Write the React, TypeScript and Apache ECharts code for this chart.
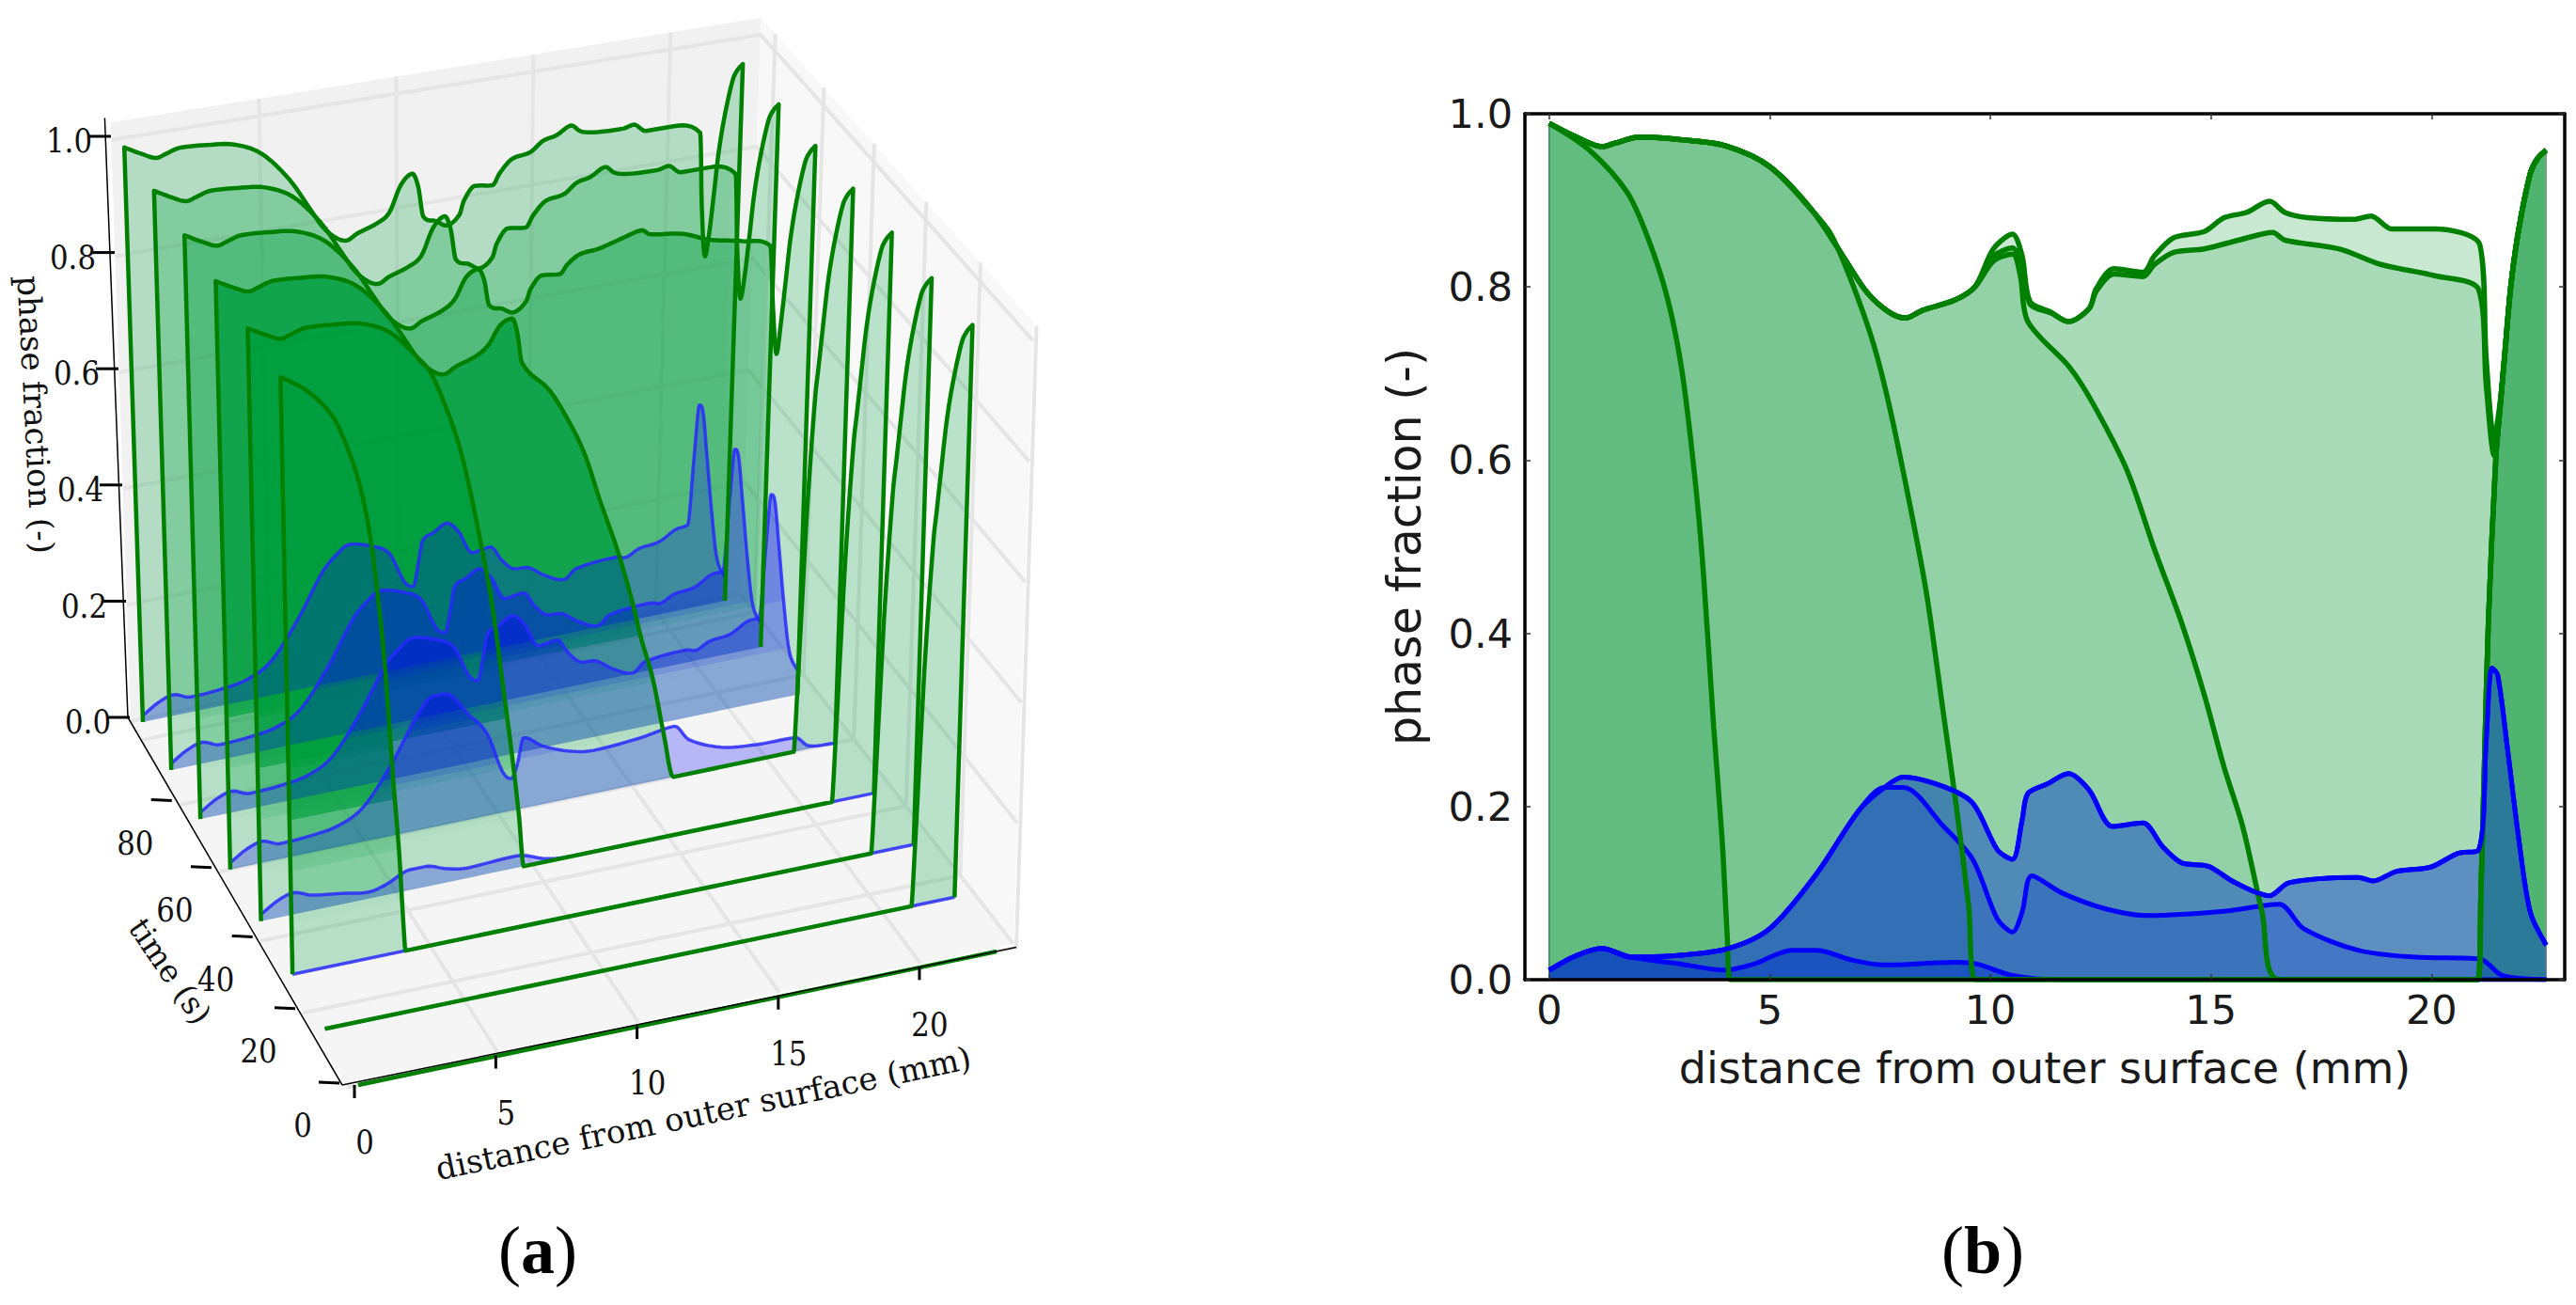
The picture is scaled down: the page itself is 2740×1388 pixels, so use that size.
import React, { useEffect, useRef } from "react";
import * as echarts from "echarts";

type Pt = [number, number];

const X_TICKS = [0, 5, 10, 15, 20];
const TIME_TICKS = [0, 20, 40, 60, 80];
const PHASE_TICKS = [0, 0.2, 0.4, 0.6, 0.8, 1];
const SLICE_TIMES = [105, 90, 75, 60, 45, 30, 15, 0];

const SHARED_A: Pt[] = [[0, 0.989], [0.62, 0.973], [1.2, 0.962], [1.48, 0.966], [2.05, 0.973], [3, 0.97], [4, 0.963], [5, 0.939], [6, 0.886]];
const SHARED_B: Pt[] = [[6.74, 0.829], [7.2, 0.794], [7.7, 0.771], [8.08, 0.764], [8.46, 0.773], [9.2, 0.785], [9.65, 0.8]];
const RISE: Pt[] = [[21.05, 0], [21.12, 0.1], [21.2, 0.25], [21.29, 0.414], [21.46, 0.604], [21.55, 0.657], [21.64, 0.71], [21.8, 0.802], [21.98, 0.867], [22.24, 0.931], [22.4, 0.948], [22.6, 0.958]];
const C1_TAIL: Pt[] = [[10.07, 0.844], [10.5, 0.861], [10.72, 0.836], [10.9, 0.783], [11.37, 0.771], [11.77, 0.76], [12.24, 0.775], [12.4, 0.798], [12.8, 0.821], [13.46, 0.817], [13.72, 0.836], [14.16, 0.857], [14.85, 0.864], [15.3, 0.88], [15.8, 0.886], [16.33, 0.899], [16.68, 0.886], [17.2, 0.88], [18.24, 0.878], [18.63, 0.882], [19.1, 0.867], [20.07, 0.867], [21.1, 0.848], [21.24, 0.718], [21.42, 0.625], [21.55, 0.665], [21.68, 0.733], [21.8, 0.802], [21.98, 0.867], [22.24, 0.931], [22.4, 0.948], [22.6, 0.958]];
const C2_TAIL: Pt[] = [[10.07, 0.835], [10.5, 0.845], [10.72, 0.825], [10.9, 0.78], [11.37, 0.77], [11.77, 0.76], [12.24, 0.775], [12.4, 0.795], [12.8, 0.815], [13.46, 0.812], [13.72, 0.826], [14.16, 0.84], [14.85, 0.844], [15.7, 0.855], [16.4, 0.863], [16.68, 0.854], [17.9, 0.844], [18.85, 0.826], [20.07, 0.813], [21.07, 0.797], [21.24, 0.687], [21.42, 0.605], [21.55, 0.66], [21.68, 0.733], [21.8, 0.802], [21.98, 0.867], [22.24, 0.931], [22.4, 0.948], [22.6, 0.958]];
const C3_TAIL: Pt[] = [[10.07, 0.83], [10.5, 0.838], [10.68, 0.813], [10.85, 0.76], [11.8, 0.707], [12.33, 0.665], [13.1, 0.588], [13.72, 0.497], [14.33, 0.413], [14.85, 0.329], [15.3, 0.245], [15.72, 0.177], [16.16, 0.078], [16.55, 0], ...RISE];
const C4_TAIL: Pt[] = [[6.36, 0.863], [6.74, 0.821], [7.31, 0.741], [7.7, 0.665], [8.17, 0.55], [8.56, 0.444], [8.94, 0.306], [9.23, 0.2], [9.51, 0.085], [9.68, 0], ...RISE];

const CURVE_1: Pt[] = [...SHARED_A, ...SHARED_B, ...C1_TAIL];
const CURVE_2: Pt[] = [...SHARED_A, ...SHARED_B, ...C2_TAIL];
const CURVE_3: Pt[] = [...SHARED_A, ...SHARED_B, ...C3_TAIL];
const CURVE_4: Pt[] = [...SHARED_A, ...C4_TAIL];
const CURVE_5: Pt[] = [[0, 0.989], [0.91, 0.958], [1.77, 0.909], [2.25, 0.855], [2.68, 0.787], [3.01, 0.703], [3.3, 0.581], [3.49, 0.474], [3.73, 0.291], [3.92, 0.162], [4.04, 0.047], [4.11, 0], ...RISE];
const CURVE_6: Pt[] = [[0, 0], ...RISE];
const CURVE_FLAT: Pt[] = [[0, 0], [22.6, 0]];

const BLUE_LEFT: Pt[] = [[0, 0.011], [0.62, 0.028], [1.2, 0.036], [1.86, 0.026], [2.92, 0.028], [4.06, 0.036], [5, 0.059], [6.07, 0.123], [7.03, 0.196], [7.6, 0.222]];
const BLUE_1: Pt[] = [...BLUE_LEFT, [8.03, 0.234], [8.94, 0.223], [9.6, 0.204], [10.16, 0.15], [10.5, 0.139], [10.72, 0.184], [10.85, 0.215], [11.29, 0.226], [11.77, 0.238], [12.24, 0.219], [12.77, 0.177], [13.46, 0.181], [13.9, 0.154], [14.33, 0.135], [14.94, 0.131], [15.55, 0.112], [16.33, 0.097], [16.77, 0.112], [18.33, 0.118], [18.68, 0.114], [19.2, 0.125], [19.98, 0.13], [20.6, 0.146], [21.07, 0.15], [21.24, 0.276], [21.37, 0.36], [21.5, 0.352], [21.72, 0.268], [21.98, 0.162], [22.24, 0.078], [22.6, 0.04]];
const BLUE_2: Pt[] = [...BLUE_LEFT, [8.03, 0.222], [8.94, 0.177], [9.6, 0.139], [10.16, 0.07], [10.5, 0.055], [10.72, 0.078], [10.94, 0.12], [11.63, 0.1], [12.6, 0.082], [13.55, 0.074], [15.3, 0.079], [16.55, 0.087], [17.1, 0.059], [18.33, 0.034], [19.63, 0.026], [21.1, 0.024], [21.6, 0.005], [22.6, 0]];
const BLUE_3: Pt[] = [[0, 0.011], [0.62, 0.028], [1.2, 0.036], [1.86, 0.026], [3, 0.018], [3.97, 0.011], [4.64, 0.018], [5.5, 0.034], [6.07, 0.034], [6.84, 0.023], [7.6, 0.017], [9.23, 0.02], [9.7, 0.018], [10.5, 0.005], [11.6, 0], [22.6, 0]];

const GREEN_CURVES = [CURVE_1, CURVE_2, CURVE_3, CURVE_4, CURVE_5, CURVE_6];
const GREEN_ALPHA = [0.216, 0.15, 0.135, 0.17, 0.19, 0.2];
const BLUE_CURVES = [BLUE_1, BLUE_2, BLUE_3];
const BLUE_ALPHA = [0.45, 0.25, 0.45];

const SLICE_GREEN = [CURVE_1, CURVE_1, CURVE_2, CURVE_3, CURVE_4, CURVE_5, CURVE_6, CURVE_FLAT];
const SLICE_BLUE = [BLUE_1, BLUE_1, BLUE_1, BLUE_2, BLUE_3, CURVE_FLAT, CURVE_FLAT];
// extra opacity of a slice above the floor line of each slice behind it
const OVERLAP_ALPHA = [0.25, 0.023, 0.123, 0.655, 0.55, 0];
const BLUE_OVERLAP_ALPHA = [0.25, 0.1, 0.1];
const OVERLAP_STEP = 0.085;

// ---- oblique 3-D projection for panel (a)
const XMAX = 22.6;
const TMAX = 105;
const XLO = -0.4, XHI = 23.3, TLO = 1, THI = 106, ZTOP = 1.03;
const [x0, y0, x1, y1, x2, y2, x3, y3] = [381, 1154, 1060, 1012, 771, 639, 152, 768];
const den = (x1 - x2) * (y3 - y2) - (x3 - x2) * (y1 - y2);
const sx = x0 - x1 + x2 - x3, sy = y0 - y1 + y2 - y3;
const hg = (sx * (y3 - y2) - (x3 - x2) * sy) / den;
const hh = ((x1 - x2) * sy - sx * (y1 - y2)) / den;
const ha = x1 - x0 + hg * x1, hb = x3 - x0 + hh * x3;
const hd = y1 - y0 + hg * y1, he = y3 - y0 + hh * y3;

function projectUnit(u: number, v: number, z: number): Pt {
  const w = hg * u + hh * v + 1;
  const bx = (ha * u + hb * v + x0) / w;
  const by = (hd * u + he * v + y0) / w;
  const vx = (1 - u) * ((1 - v) * -10 + v * -20) + u * 20;
  const vy = (1 - u) * ((1 - v) * -652 + v * -618) + u * ((1 - v) * -642 + v * -596);
  return [bx + z * vx, by + z * vy];
}
const project = (x: number, t: number, z: number) => projectUnit(x / XMAX, t / TMAX, z);

const HG = { left: 100, top: 20, width: 1000, height: 1000 };

function layer(z: number, build: (P: (x: number, t: number, v: number) => Pt) => any[]) {
  return {
    type: "custom",
    xAxisIndex: 2,
    yAxisIndex: 2,
    z,
    silent: true,
    clip: false,
    data: [[0, 0]],
    renderItem: (_p: any, api: any) => {
      const P = (x: number, t: number, v: number): Pt => {
        const c = api.coord([x, v]);
        return projectUnit((c[0] - HG.left) / HG.width, t / TMAX, (HG.top + HG.height - c[1]) / HG.height);
      };
      return { type: "group", children: build(P) };
    },
  };
}
const poly = (points: Pt[], fill: string) => ({ type: "polygon", shape: { points }, style: { fill }, silent: true });
const pline = (points: Pt[], stroke: string, lineWidth: number) => ({
  type: "polyline",
  shape: { points },
  style: { stroke, lineWidth, fill: "none", lineJoin: "round" },
  silent: true,
});

// smooth drawing of a polyline of read values (same idea as a smooth line series)
function drawCurve(curve: Pt[]): Pt[] {
  const n = curve.length;
  if (n < 3) return curve;
  const sec: number[] = [];
  for (let i = 0; i < n - 1; i++) sec.push((curve[i + 1][1] - curve[i][1]) / (curve[i + 1][0] - curve[i][0]));
  const m: number[] = curve.map((_, i) => {
    if (i === 0) return sec[0];
    if (i === n - 1) return sec[n - 2];
    if (sec[i - 1] * sec[i] <= 0) return 0;
    const c = (curve[i + 1][1] - curve[i - 1][1]) / (curve[i + 1][0] - curve[i - 1][0]);
    const lim = 3 * Math.min(Math.abs(sec[i - 1]), Math.abs(sec[i]));
    return Math.sign(c) * Math.min(Math.abs(c), lim);
  });
  const out: Pt[] = [];
  for (let i = 0; i < n - 1; i++) {
    const h = curve[i + 1][0] - curve[i][0];
    const steps = sec[i] === 0 ? 1 : 6;
    for (let s = 0; s < steps; s++) {
      const a = s / steps;
      const h00 = 2 * a * a * a - 3 * a * a + 1, h10 = a * a * a - 2 * a * a + a;
      const h01 = -2 * a * a * a + 3 * a * a, h11 = a * a * a - a * a;
      out.push([curve[i][0] + a * h, h00 * curve[i][1] + h10 * h * m[i] + h01 * curve[i + 1][1] + h11 * h * m[i + 1]]);
    }
  }
  out.push(curve[n - 1]);
  return out;
}

function segments(curve: Pt[]): Pt[][] {
  const out: Pt[][] = [];
  let cur: Pt[] = [];
  curve.forEach((p, i) => {
    cur.push(p);
    if (p[1] === 0 && i > 0) {
      if (cur.length > 1) out.push(cur);
      cur = [p];
    }
  });
  if (cur.length > 1) out.push(cur);
  return out;
}

const panes = layer(1, (P) => {
  const c: any[] = [
    poly([P(XLO, TLO, 0), P(XHI, TLO, 0), P(XHI, THI, 0), P(XLO, THI, 0)], "#f5f5f5"),
    poly([P(XLO, THI, 0), P(XHI, THI, 0), P(XHI, THI, ZTOP), P(XLO, THI, ZTOP)], "#f1f1f1"),
    poly([P(XHI, TLO, 0), P(XHI, THI, 0), P(XHI, THI, ZTOP), P(XHI, TLO, ZTOP)], "#f8f8f8"),
  ];
  const g = "#e5e5e5";
  X_TICKS.slice(1).forEach((x) => {
    c.push(pline([P(x, TLO, 0), P(x, THI, 0), P(x, THI, ZTOP)], g, 4));
  });
  [...TIME_TICKS.slice(1), 100, 0].forEach((t) => {
    c.push(pline([P(XLO, t, 0), P(XHI, t, 0), P(XHI, t, ZTOP)], g, 4));
  });
  PHASE_TICKS.forEach((z) => {
    c.push(pline([P(XLO, THI, z), P(XHI, THI, z), P(XHI, TLO, z)], g, 4));
  });
  return c;
});

const GREEN_3D = "0,158,62";
const greenFills = layer(2, (P) => {
  const c: any[] = [];
  SLICE_GREEN.forEach((curve, i) => {
    const t = SLICE_TIMES[i];
    segments(curve).forEach((rawSeg) => {
      const seg = drawCurve(rawSeg);
      const xa = seg[0][0], xb = seg[seg.length - 1][0];
      const top = seg.map((p) => P(p[0], t, p[1]));
      c.push(poly([...top, P(xb, t, 0), P(xa, t, 0)], `rgba(${GREEN_3D},${OVERLAP_ALPHA[0]})`));
      if (rawSeg[0][1] === 0) return;
      const body = seg.filter((p) => p[0] <= 21.05);
      const bodyEnd = body[body.length - 1][0];
      for (let j = 1; j <= i && j < OVERLAP_ALPHA.length; j++) {
        if (OVERLAP_ALPHA[j] === 0) continue;
        const a = j * OVERLAP_STEP;
        const band = body.map((p) => P(p[0], t, Math.max(p[1], a)));
        c.push(poly([...band, P(bodyEnd, t, a), P(xa, t, a)], `rgba(${GREEN_3D},${OVERLAP_ALPHA[j]})`));
      }
    });
  });
  return c;
});

const blues = layer(3, (P) => {
  const c: any[] = [];
  SLICE_BLUE.forEach((curve, i) => {
    const t = SLICE_TIMES[i];
    const line = drawCurve(curve);
    const xEnd = curve[curve.length - 1][0];
    const top = line.map((p) => P(p[0], t, p[1]));
    c.push(poly([...top, P(xEnd, t, 0), P(0, t, 0)], `rgba(0,0,255,${BLUE_OVERLAP_ALPHA[0]})`));
    for (let j = 1; j <= i && j < BLUE_OVERLAP_ALPHA.length; j++) {
      const a = j * OVERLAP_STEP;
      const band = line.map((p) => P(p[0], t, Math.max(p[1], a)));
      c.push(poly([...band, P(xEnd, t, a), P(0, t, a)], `rgba(0,0,255,${BLUE_OVERLAP_ALPHA[j]})`));
    }
    c.push(pline(top, "rgba(40,40,255,0.85)", 3.5));
  });
  return c;
});

const greenLines = layer(4, (P) => {
  const c: any[] = [];
  SLICE_GREEN.forEach((curve, i) => {
    const t = SLICE_TIMES[i];
    const pts = drawCurve(curve).map((p) => P(p[0], t, p[1]));
    const last = curve[curve.length - 1];
    c.push(pline([P(0, t, 0), ...pts, P(last[0], t, 0)], "#008000", 4.5));
  });
  return c;
});

const axes3d = layer(5, () => {
  const c: any[] = [];
  const add = (a: Pt, dax: number, day: number, b: Pt, dbx: number, dby: number, w: number) =>
    c.push(pline([[a[0] + dax, a[1] + day], [b[0] + dbx, b[1] + dby]], "#000", w));
  const tb = project(0, TMAX, 0);
  const tt = project(0, TMAX, ZTOP);
  const o = project(0, 0, 0);
  add(tt, -20, -6, tb, -16, -5, 1.5);
  add(tb, -16, -5, o, -17, 0, 1.5);
  add(o, -17, 0, project(XHI, 0, 0), 0, 0, 1.5);
  PHASE_TICKS.forEach((z) => {
    const p = project(0, TMAX, z);
    add(p, -38, -5, p, -14, -5, 3);
  });
  TIME_TICKS.forEach((t) => {
    const p = project(0, t, 0);
    add(p, -42, -3, p, -20, -2, 3);
  });
  X_TICKS.forEach((x) => {
    const p = project(x, 0, 0);
    add(p, -4, 0, p, -4, 14, 3);
  });
  return c;
});

const SERIF = '"DejaVu Serif", serif';
function label3d(text: string, x: number, y: number, align: string, fontSize = 35, rotation = 0, scaleX = 0.88) {
  return {
    type: "text",
    x,
    y,
    rotation,
    scaleX,
    silent: true,
    z: 20,
    style: { text, fill: "#111", font: `${fontSize}px ${SERIF}`, textAlign: align, textVerticalAlign: "middle" },
  };
}
const graphics: any[] = [
  ...PHASE_TICKS.map((z) => {
    const p = project(0, TMAX, z);
    return label3d(z.toFixed(1), p[0] - 34, p[1], "right");
  }),
  ...TIME_TICKS.map((t) => {
    const p = project(0, t, 0);
    return label3d(String(t), p[0] - 59, p[1] + 43, "center");
  }),
  ...X_TICKS.map((x) => {
    const p = project(x, 0, 0);
    return label3d(String(x), p[0] + 7, p[1] + 61, "center");
  }),
  label3d("phase fraction (-)", 38, 441, "center", 34, -1.52, 1),
  label3d("time (s)", 181, 1033, "center", 33, -0.97, 1),
  label3d("distance from outer surface (mm)", 748, 1184, "center", 34, 0.206, 1),
  ...[["a", 572], ["b", 2109]].map(([name, x]) => ({
    type: "text",
    x: x as number,
    y: 1330,
    silent: true,
    z: 20,
    style: {
      text: `{n|(}{b|${name}}{n|)}`,
      textAlign: "center",
      textVerticalAlign: "middle",
      rich: {
        n: { font: '72px "Liberation Serif", serif', fill: "#000" },
        b: { font: 'bold 72px "Liberation Serif", serif', fill: "#000" },
      },
    },
  })),
];

const SANS = '"DejaVu Sans", sans-serif';
const lineSeries = (data: Pt[], color: string, width: number, z: number, area?: string) => ({
  type: "line",
  xAxisIndex: 0,
  yAxisIndex: 0,
  data,
  z,
  silent: true,
  symbol: "none",
  smooth: 0.3,
  lineStyle: width ? { color, width } : { width: 0, opacity: 0 },
  ...(area ? { areaStyle: { color: area, opacity: 1, origin: "start" } } : {}),
});

function buildOption() {
  const sharedTick = { show: true, inside: true, length: 6, lineStyle: { color: "#333", width: 1.5 } };
  const axisLine = { show: true, onZero: false, lineStyle: { color: "#000", width: 3.5 } };
  const xBase = {
    type: "value",
    gridIndex: 0,
    min: -0.55,
    max: 23.02,
    splitLine: { show: false },
    axisLine,
    z: 10,
  };
  const yBase = {
    type: "value",
    gridIndex: 0,
    min: 0,
    max: 1,
    interval: 0.2,
    splitLine: { show: false },
    axisLine,
    z: 10,
  };
  return {
    animation: false,
    backgroundColor: "#fff",
    grid: [
      { left: 1622, top: 121, width: 1106, height: 921 },
      { ...HG, show: false },
    ],
    xAxis: [
      {
        ...xBase,
        position: "bottom",
        axisTick: { ...sharedTick, customValues: X_TICKS },
        axisLabel: {
          customValues: X_TICKS,
          color: "#1a1a1a",
          fontFamily: SANS,
          fontSize: 43,
          margin: 10,
          formatter: (v: number) => String(v),
        },
        name: "distance from outer surface (mm)",
        nameLocation: "middle",
        nameGap: 71,
        nameTextStyle: { color: "#1a1a1a", fontFamily: SANS, fontSize: 46 },
      },
      {
        ...xBase,
        position: "top",
        axisTick: { ...sharedTick, customValues: X_TICKS },
        axisLabel: { show: false },
      },
      { type: "value", gridIndex: 1, min: 0, max: XMAX, show: false },
    ],
    yAxis: [
      {
        ...yBase,
        position: "left",
        axisTick: sharedTick,
        axisLabel: {
          color: "#1a1a1a",
          fontFamily: SANS,
          fontSize: 43,
          margin: 13,
          formatter: (v: number) => v.toFixed(1),
        },
        name: "phase fraction (-)",
        nameLocation: "middle",
        nameGap: 103,
        nameTextStyle: { color: "#1a1a1a", fontFamily: SANS, fontSize: 49 },
      },
      { ...yBase, position: "right", axisTick: sharedTick, axisLabel: { show: false } },
      { type: "value", gridIndex: 1, min: 0, max: 1, show: false },
    ],
    series: [
      panes,
      greenFills,
      blues,
      greenLines,
      axes3d,
      ...GREEN_CURVES.map((c, i) => lineSeries(c, "#008000", 0, 2, `rgba(0,150,48,${GREEN_ALPHA[i]})`)),
      lineSeries([[0, 0], [0, 0.989]], "#2e8b57", 1.5, 3),
      lineSeries([[22.6, 0], [22.6, 0.958]], "#8a9a90", 1.5, 3),
      ...BLUE_CURVES.map((c, i) => lineSeries(c, "#0000ff", 5, 4, `rgba(0,50,205,${BLUE_ALPHA[i]})`)).reverse(),
      ...GREEN_CURVES.slice(0, 5).map((c) => lineSeries(c, "#008000", 5.5, 5)),
      ...BLUE_CURVES.slice(0, 1).map((c) => lineSeries(c, "#0000ff", 5, 6)),
    ],
    graphic: graphics,
  };
}

export default function App() {
  const ref = useRef<HTMLDivElement>(null);
  useEffect(() => {
    const chart = echarts.init(ref.current!, undefined, { renderer: "svg" });
    chart.setOption(buildOption() as any);
    return () => chart.dispose();
  }, []);
  return <div ref={ref} style={{ position: "absolute", left: 0, top: 0, width: 2740, height: 1388, background: "#fff" }} />;
}
